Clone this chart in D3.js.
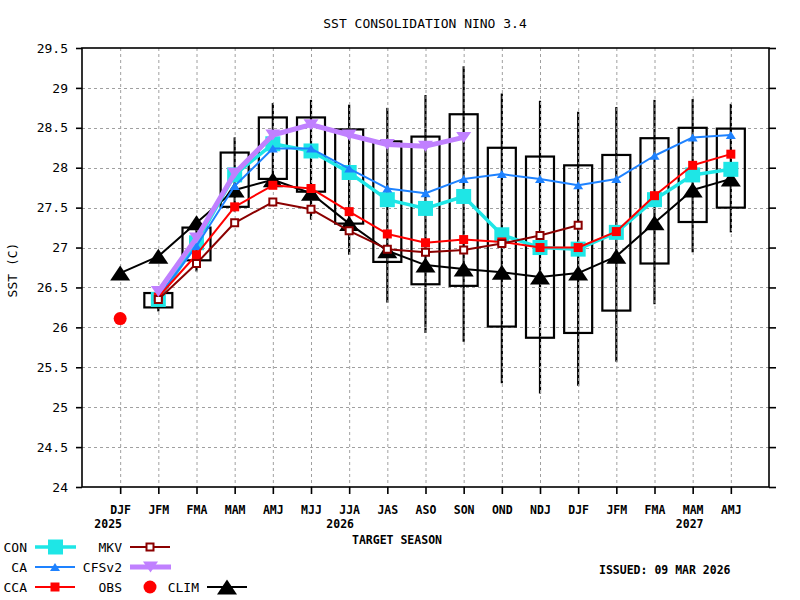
<!DOCTYPE html>
<html><head><meta charset="utf-8">
<script src="https://cdn.jsdelivr.net/npm/d3@7"></script>
<style>body{margin:0;background:#fff}svg{display:block}</style>
</head><body>
<svg id="c" width="800" height="600"></svg>
<script>
// ---------- data ----------
const seasons = ["DJF","JFM","FMA","MAM","AMJ","MJJ","JJA","JAS","ASO","SON","OND","NDJ","DJF","JFM","FMA","MAM","AMJ"];
const yTicks = [24,24.5,25,25.5,26,26.5,27,27.5,28,28.5,29,29.5];
const years = ["2025","2026","2027"];
const yearIdx = [0,6,15];

const climVals  = [26.68,26.89,27.31,27.72,27.85,27.68,27.30,26.96,26.78,26.73,26.69,26.63,26.68,26.89,27.31,27.72,27.86];
const obsVals   = [26.11];
const conVals   = [26.35,27.06,27.91,28.30,28.21,27.94,27.60,27.49,27.64,27.16,27.00,26.98,27.19,27.60,27.91,27.98];
const caVals    = [26.38,27.02,27.77,28.24,28.24,27.99,27.74,27.68,27.86,27.92,27.86,27.78,27.86,28.15,28.38,28.41];
const ccaVals   = [26.38,26.91,27.51,27.78,27.74,27.45,27.17,27.06,27.10,27.07,27.00,27.00,27.20,27.65,28.03,28.17];
const mkvVals   = [26.35,26.80,27.31,27.57,27.48,27.21,26.98,26.94,26.97,27.05,27.15,27.28];
const cfsVals   = [26.45,27.12,27.93,28.41,28.54,28.41,28.29,28.27,28.38];

// box plot (seasons 1..16)
const boxLow  = [26.20,26.70,27.45,27.80,27.35,26.91,26.31,25.93,25.82,25.30,25.17,25.27,25.57,26.29,26.94,27.19];
const boxQ1   = [26.25,26.84,27.51,27.86,27.70,27.30,26.82,26.54,26.52,26.01,25.87,25.93,26.21,26.80,27.32,27.50];
const boxQ3   = [26.43,27.25,28.19,28.63,28.63,28.48,28.33,28.39,28.67,28.25,28.14,28.03,28.16,28.37,28.50,28.49];
const boxHigh = [26.45,27.30,28.38,28.81,28.85,28.79,28.75,28.91,29.27,28.93,28.84,28.70,28.76,28.85,28.86,28.80];

// ---------- layout ----------
const svg = d3.select("#c");
const L = 82, R = 769, T = 48, B = 487;
const x = d3.scaleLinear().domain([-1,17]).range([L,R]);
const y = d3.scaleLinear().domain([24,29.5]).range([B,T]);
const thin = "'DejaVu Sans Mono', monospace";
const C = {con:"#1ee6e6", ca:"#1e82ff", cca:"#ff0000", mkv:"#8b0000", cfs:"#c080ff", clim:"#000", obs:"#ff0000", grid:"#a0a0a0"};

const tri = (w,h,down) => down
  ? `M${-w/2},${-h/2}L${w/2},${-h/2}L0,${h/2}Z`
  : `M0,${-h/2}L${w/2},${h/2}L${-w/2},${h/2}Z`;
const sq = s => `M${-s/2},${-s/2}h${s}v${s}h${-s}Z`;

// whiskers (under grid)
const bIdx = d3.range(1,17);
const gW = svg.append("g");
gW.selectAll("line").data(bIdx).join("line")
  .attr("x1",(d)=>x(d)).attr("x2",(d)=>x(d))
  .attr("y1",(d,i)=>y(boxLow[i])).attr("y2",(d,i)=>y(boxHigh[i]))
  .attr("stroke","#000").attr("stroke-width",2.2);

// grid
const gG = svg.append("g").attr("stroke",C.grid).attr("stroke-width",1).attr("stroke-dasharray","3,3");
gG.selectAll(".v").data(d3.range(17)).join("line")
  .attr("x1",d=>x(d)+0.5).attr("x2",d=>x(d)+0.5).attr("y1",T).attr("y2",B);
gG.selectAll(".h").data(yTicks.slice(1,-1)).join("line")
  .attr("x1",L).attr("x2",R).attr("y1",d=>Math.round(y(d))+0.5).attr("y2",d=>Math.round(y(d))+0.5);

// boxes
svg.append("g").selectAll("rect").data(bIdx).join("rect")
  .attr("x",d=>x(d)-14).attr("width",28)
  .attr("y",(d,i)=>y(boxQ3[i])).attr("height",(d,i)=>y(boxQ1[i])-y(boxQ3[i]))
  .attr("fill","none").attr("stroke","#000").attr("stroke-width",2.2);

// axes
const ax = svg.append("g");
const left = ax.append("g").attr("transform",`translate(${L},0)`)
  .call(d3.axisLeft(y).tickValues(yTicks).tickSize(6).tickPadding(8).tickFormat(d3.format("")));
const right = ax.append("g").attr("transform",`translate(${R},0)`)
  .call(d3.axisRight(y).tickValues(yTicks).tickSize(7).tickFormat(""));
const bottom = ax.append("g").attr("transform",`translate(0,${B})`)
  .call(d3.axisBottom(x).tickValues(d3.range(17)).tickSize(7).tickFormat(i=>seasons[i]));
ax.selectAll(".domain").remove();
ax.selectAll(".tick line").attr("stroke","#000").attr("stroke-width",1.6);
left.selectAll("text").attr("font-family",thin).attr("font-size",13).attr("fill","#000");
bottom.selectAll("text").attr("font-family",thin).attr("font-weight","bold").attr("font-size",11.5)
  .attr("y",27).attr("dy",0).attr("fill","#000");
svg.append("rect").attr("x",L).attr("y",T).attr("width",R-L).attr("height",B-T)
  .attr("fill","none").attr("stroke","#000").attr("stroke-width",1.6);

// year labels
const yearDx = [-12,-9,-3];
svg.append("g").selectAll("text").data(years).join("text")
  .attr("x",(d,i)=>x(yearIdx[i])+yearDx[i]).attr("y",528).attr("text-anchor","middle")
  .attr("font-family",thin).attr("font-weight","bold").attr("font-size",11.5).text(d=>d);

// titles
svg.append("text").attr("x",425).attr("y",28).attr("text-anchor","middle")
  .attr("font-family",thin).attr("font-size",13).text("SST CONSOLIDATION NINO 3.4");
svg.append("text").attr("x",397).attr("y",544).attr("text-anchor","middle")
  .attr("font-family",thin).attr("font-weight","bold").attr("font-size",11.5).text("TARGET SEASON");
svg.append("text").attr("transform","translate(17,270) rotate(-90)").attr("text-anchor","middle")
  .attr("font-family",thin).attr("font-size",13).text("SST (C)");
svg.append("text").attr("x",599).attr("y",574)
  .attr("font-family",thin).attr("font-weight","bold").attr("font-size",11.5).text("ISSUED: 09 MAR 2026");

// series
function series(vals, start, color, lw, marker){
  const pts = vals.map((v,i)=>[x(start+i), y(v)]);
  const g = svg.append("g");
  g.append("path").attr("d",d3.line()(pts)).attr("fill","none").attr("stroke",color)
    .attr("stroke-width",lw).attr("stroke-linejoin","round");
  g.selectAll("path.m").data(pts).join("path").attr("class","m")
    .attr("transform",p=>`translate(${p[0]},${p[1]})`).attr("d",marker.d)
    .attr("fill",marker.fill).attr("stroke",marker.stroke||"none").attr("stroke-width",marker.sw||0);
}
series(climVals,0,C.clim,2,{d:tri(20,15),fill:"#000"});
svg.append("g").selectAll("circle").data(obsVals).join("circle")
  .attr("cx",(d,i)=>x(i)).attr("cy",d=>y(d)).attr("r",6.5).attr("fill",C.obs);
series(conVals,1,C.con,3.5,{d:sq(15),fill:C.con});
series(caVals,1,C.ca,2,{d:tri(10,8),fill:C.ca});
series(ccaVals,1,C.cca,2,{d:sq(9),fill:C.cca});
series(mkvVals,1,C.mkv,2,{d:sq(7),fill:"#fff",stroke:C.mkv,sw:2});
series(cfsVals,1,C.cfs,5,{d:tri(15,11,true),fill:C.cfs});

// legend
const lg = svg.append("g").attr("font-family",thin).attr("font-size",13);
const legendItems = [
  {name:"CON",  tx:27, x1:35, x2:76, y:547, color:C.con, lw:3.5, d:sq(15), fill:C.con},
  {name:"CA",   tx:27, x1:35, x2:75, y:567, color:C.ca,  lw:2,   d:tri(10,8), fill:C.ca},
  {name:"CCA",  tx:27, x1:35, x2:75, y:587, color:C.cca, lw:2,   d:sq(9), fill:C.cca},
  {name:"MKV",  tx:122,x1:130,x2:170,y:547, color:C.mkv, lw:2,   d:sq(7), fill:"#fff", stroke:C.mkv, sw:2},
  {name:"CFSv2",tx:122,x1:130,x2:171,y:567, color:C.cfs, lw:5,   d:tri(15,11,true), fill:C.cfs},
  {name:"OBS",  tx:122,x1:null,x2:null,y:587, color:C.obs, circle:true},
  {name:"CLIM", tx:199,x1:207,x2:247,y:587, color:"#000", lw:2,  d:tri(20,15), fill:"#000"}
];
legendItems.forEach(it=>{
  lg.append("text").attr("x",it.tx).attr("y",it.y+5).attr("text-anchor","end").text(it.name);
  if(it.circle){
    lg.append("circle").attr("cx",150).attr("cy",it.y).attr("r",6.5).attr("fill",it.color);
    return;
  }
  lg.append("line").attr("x1",it.x1).attr("x2",it.x2).attr("y1",it.y).attr("y2",it.y)
    .attr("stroke",it.color).attr("stroke-width",it.lw);
  lg.append("path").attr("transform",`translate(${(it.x1+it.x2)/2},${it.y})`).attr("d",it.d)
    .attr("fill",it.fill).attr("stroke",it.stroke||"none").attr("stroke-width",it.sw||0);
});
</script>
</body></html>
